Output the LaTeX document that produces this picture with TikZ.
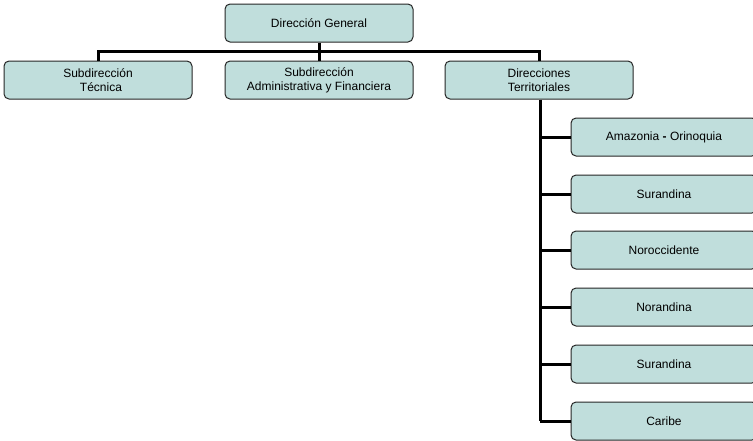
\documentclass[tikz,border=0pt]{standalone}
\usepackage{fontspec}
\setmainfont{Liberation Sans}
\begin{document}
\begin{tikzpicture}[x=1pt,y=-1pt,
  box/.style={draw=black!85, line width=1pt, fill=boxfill, rounded corners=5pt,
    minimum width=188pt, minimum height=38pt, inner sep=1pt, align=center,
    font=\fontsize{12}{14}\selectfont},
  link/.style={line width=3pt, draw=black}]
\definecolor{boxfill}{HTML}{C0DEDC}
\useasboundingbox (0,0) rectangle (753,440);
\begin{scope}
\clip (0,0) rectangle (753,440);
\node[box] (dg) at (319,23) {Dirección General};
\node[box] (st) at (98,80) {Subdirección\\ \hspace*{6pt}Técnica};
\node[box] (sa) at (319,80) {Subdirección\\Administrativa y Financiera};
\node[box] (dt) at (539,80) {Direcciones\\Territoriales};
\node[box, minimum width=186pt] (c1) at (664,137) {Amazonia \textbf{-} Orinoquia};
\node[box, minimum width=186pt] (c2) at (664,194) {Surandina};
\node[box, minimum width=186pt] (c3) at (664,250) {Noroccidente};
\node[box, minimum width=186pt] (c4) at (664,307) {Norandina};
\node[box, minimum width=186pt] (c5) at (664,364) {Surandina};
\node[box, minimum width=186pt] (c6) at (664,421) {Caribe};
\coordinate (bar) at (319,51);
\coordinate (trunkend) at (540,421);
\draw[link] (dg.south) -- (bar);
\draw[link] (st.north) |- (bar) -| (dt.north);
\draw[link] (sa.north) -- (sa.north |- bar);
\draw[link] (dt.south -| trunkend) -- (trunkend);
\foreach \c in {c1,c2,c3,c4,c5,c6}{
  \draw[link] (\c.west) -- (\c.west -| trunkend);
}
\end{scope}
\end{tikzpicture}
\end{document}
